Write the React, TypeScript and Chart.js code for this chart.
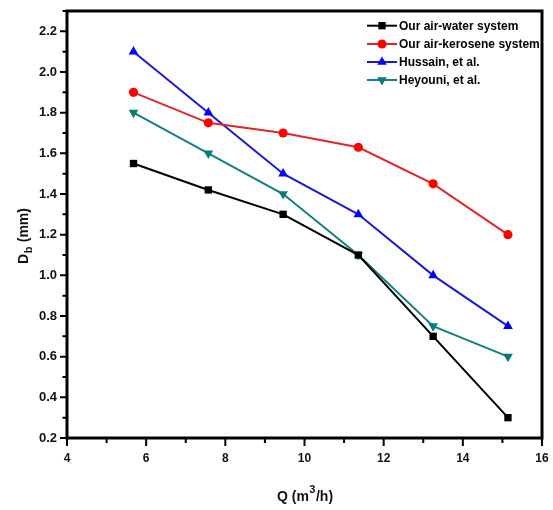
import React, { useEffect, useRef } from 'react';
import { Chart, registerables } from 'chart.js';

Chart.register(...registerables);

const flowRates = [5.68, 7.57, 9.46, 11.36, 13.25, 15.14];
const airWater = [1.55, 1.42, 1.3, 1.1, 0.7, 0.3];
const airKerosene = [1.9, 1.75, 1.7, 1.63, 1.45, 1.2];
const hussain = [2.1, 1.8, 1.5, 1.3, 1.0, 0.75];
const heyouni = [1.8, 1.6, 1.4, 1.1, 0.75, 0.6];
const seriesLabels = ['Our air-water system', 'Our air-kerosene system', 'Hussain, et al.', 'Heyouni, et al.'];
const xMinorTicks = [5, 7, 9, 11, 13, 15];
const yMinorTicks = [0.3, 0.5, 0.7, 0.9, 1.1, 1.3, 1.5, 1.7, 1.9, 2.1, 2.3];

const FONT = '"Liberation Sans", Arial, sans-serif';

const styles = [
  { line: '#000000', fill: '#000000', shape: 'rect', r: 5.2, rot: 0 },
  { line: '#e0262b', fill: '#ff0000', shape: 'circle', r: 4.6, rot: 0 },
  { line: '#1a1ad0', fill: '#0000ff', shape: 'triangle', r: 5.6, rot: 0 },
  { line: '#138080', fill: '#0a7a7a', shape: 'triangle', r: 5.6, rot: 180 },
];

function drawMarker(ctx: CanvasRenderingContext2D, s: any, x: number, y: number) {
  ctx.save();
  ctx.fillStyle = s.fill;
  ctx.beginPath();
  if (s.shape === 'rect') {
    const h = Math.SQRT1_2 * s.r;
    ctx.rect(x - h, y - h, 2 * h, 2 * h);
  } else if (s.shape === 'circle') {
    ctx.arc(x, y, s.r, 0, Math.PI * 2);
  } else {
    const dir = s.rot === 180 ? -1 : 1;
    const r = s.r;
    ctx.moveTo(x, y - dir * r);
    ctx.lineTo(x + r * 0.866, y + dir * r * 0.5);
    ctx.lineTo(x - r * 0.866, y + dir * r * 0.5);
    ctx.closePath();
  }
  ctx.fill();
  ctx.restore();
}

const framePlugin = {
  id: 'framePlugin',
  afterDraw(chart: any) {
    const ctx: CanvasRenderingContext2D = chart.ctx;
    const { left, right, top, bottom } = chart.chartArea;
    const xs = chart.scales.x;
    const ys = chart.scales.y;
    ctx.save();
    ctx.strokeStyle = '#000';
    // ticks
    ctx.lineWidth = 2;
    ctx.beginPath();
    for (let v = 4; v <= 16; v += 2) {
      const px = xs.getPixelForValue(v);
      ctx.moveTo(px, bottom);
      ctx.lineTo(px, bottom + 8);
    }
    xMinorTicks.forEach((v) => {
      const px = xs.getPixelForValue(v);
      ctx.moveTo(px, bottom);
      ctx.lineTo(px, bottom + 5);
    });
    for (let i = 0; i <= 10; i++) {
      const v = 0.2 + i * 0.2;
      const py = ys.getPixelForValue(v);
      ctx.moveTo(left, py);
      ctx.lineTo(left - 7, py);
    }
    yMinorTicks.forEach((v) => {
      const py = ys.getPixelForValue(v);
      ctx.moveTo(left, py);
      ctx.lineTo(left - 4.5, py);
    });
    ctx.stroke();
    // frame
    ctx.lineWidth = 3;
    ctx.strokeRect(left, top, right - left, bottom - top);

    // axis titles
    ctx.fillStyle = '#111';
    ctx.textBaseline = 'alphabetic';
    const big = 'bold 14px ' + FONT;
    const small = 'bold 11px ' + FONT;
    // x title: Q (m^3/h)
    const p1 = 'Q (m';
    const p2 = '3';
    const p3 = '/h)';
    ctx.font = big;
    const w1 = ctx.measureText(p1).width;
    const w3 = ctx.measureText(p3).width;
    ctx.font = small;
    const w2 = ctx.measureText(p2).width + 1;
    const total = w1 + w2 + w3;
    const sx = 305 - total / 2;
    const by = 501;
    ctx.textAlign = 'left';
    ctx.font = big;
    ctx.fillText(p1, sx, by);
    ctx.font = small;
    ctx.fillText(p2, sx + w1 + 0.5, by - 8);
    ctx.font = big;
    ctx.fillText(p3, sx + w1 + w2, by);

    // y title: D_b (mm)
    ctx.save();
    ctx.translate(28, 236);
    ctx.rotate(-Math.PI / 2);
    const q1 = 'D';
    const q2 = 'b';
    const q3 = ' (mm)';
    ctx.font = big;
    const v1 = ctx.measureText(q1).width;
    const v3 = ctx.measureText(q3).width;
    ctx.font = small;
    const v2 = ctx.measureText(q2).width + 1;
    const ty = -(v1 + v2 + v3) / 2;
    ctx.font = big;
    ctx.fillText(q1, ty, 0);
    ctx.font = small;
    ctx.fillText(q2, ty + v1 + 0.5, 4);
    ctx.font = big;
    ctx.fillText(q3, ty + v1 + v2, 0);
    ctx.restore();

    // legend
    const rows = [25.7, 44, 62, 80];
    ctx.font = 'bold 12px ' + FONT;
    ctx.textBaseline = 'middle';
    ctx.textAlign = 'left';
    chart.data.datasets.forEach((ds: any, i: number) => {
      const y = rows[i];
      const s = styles[i];
      ctx.strokeStyle = s.line;
      ctx.lineWidth = 2;
      ctx.beginPath();
      ctx.moveTo(367, y);
      ctx.lineTo(397, y);
      ctx.stroke();
      drawMarker(ctx, s, 382, y);
      ctx.fillStyle = '#000';
      ctx.fillText(ds.label, 399, y + 0.5);
    });
    ctx.restore();
  },
};

export default function App() {
  const ref = useRef<HTMLCanvasElement | null>(null);
  useEffect(() => {
    if (!ref.current) return;
    const series = [airWater, airKerosene, hussain, heyouni];
    const chart = new Chart(ref.current, {
      type: 'line',
      data: {
        datasets: series.map((vals, i) => ({
          label: seriesLabels[i],
          data: flowRates.map((x, j) => ({ x, y: vals[j] })),
          borderColor: styles[i].line,
          backgroundColor: styles[i].fill,
          pointBackgroundColor: styles[i].fill,
          pointBorderColor: styles[i].fill,
          pointBorderWidth: 0,
          pointStyle: styles[i].shape as any,
          pointRotation: styles[i].rot,
          pointRadius: styles[i].r,
          borderWidth: 2,
          tension: 0,
          fill: false,
        })),
      },
      options: {
        animation: false,
        responsive: false,
        maintainAspectRatio: false,
        layout: { padding: { top: 11, right: 11, left: 0, bottom: 0 } },
        plugins: { legend: { display: false }, tooltip: { enabled: false } },
        scales: {
          x: {
            type: 'linear',
            min: 4,
            max: 16,
            afterFit: (s: any) => {
              s.height = 72;
              s.paddingLeft = 0;
              s.paddingRight = 0;
            },
            grid: { display: false, drawTicks: false },
            border: { display: false },
            ticks: {
              stepSize: 2,
              padding: 13,
              color: '#111',
              font: { family: FONT, size: 12, weight: 'bold' },
              callback: (v: any) => String(v),
            },
          },
          y: {
            type: 'linear',
            min: 0.2,
            max: 2.3,
            afterFit: (s: any) => {
              s.width = 67;
              s.paddingTop = 0;
              s.paddingBottom = 0;
            },
            grid: { display: false, drawTicks: false },
            border: { display: false },
            ticks: {
              stepSize: 0.2,
              includeBounds: false,
              padding: 10,
              color: '#111',
              font: { family: FONT, size: 13, weight: 'bold' },
              callback: (v: any) => Number(v).toFixed(1),
            },
          },
        },
      },
      plugins: [framePlugin],
    });
    return () => chart.destroy();
  }, []);
  return (
    <div style={{ position: 'fixed', left: 0, top: 0, width: 553, height: 510, background: '#fff' }}>
      <canvas ref={ref} width={553} height={510} style={{ width: 553, height: 510, display: 'block' }} />
    </div>
  );
}
